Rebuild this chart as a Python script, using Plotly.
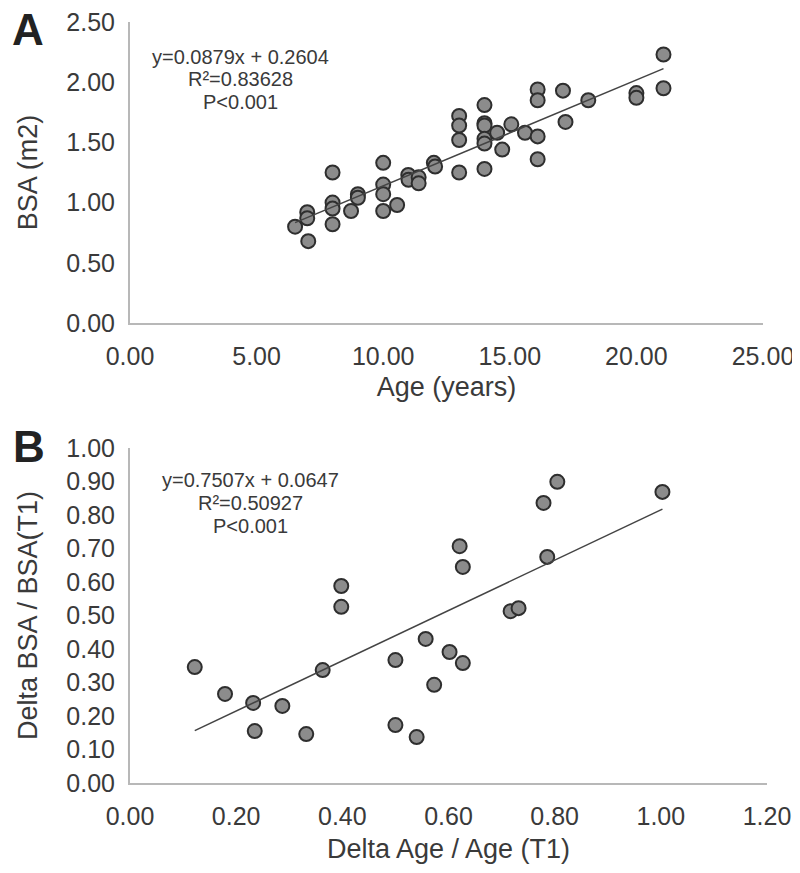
import plotly.graph_objects as go

# Panel A data: Age (years) vs BSA (m2)
age = [6.52, 7.0, 7.0, 7.04, 8.0, 8.0, 8.0, 8.0, 8.73, 9.0, 9.0,
       10.0, 10.0, 10.0, 10.0, 10.55, 10.99, 11.0, 11.4, 11.4, 12.0, 12.05,
       13.0, 13.0, 13.0, 13.0, 14.0, 14.0, 14.0, 14.0, 14.0, 14.0,
       14.5, 14.7, 15.06, 15.6, 16.1, 16.1, 16.1, 16.1, 17.1, 17.2,
       18.1, 20.0, 20.0, 21.07, 21.07]
bsa = [0.80, 0.92, 0.87, 0.68, 1.25, 1.00, 0.95, 0.82, 0.93, 1.07, 1.04,
       1.33, 1.15, 1.07, 0.93, 0.98, 1.23, 1.19, 1.21, 1.16, 1.33, 1.30,
       1.72, 1.64, 1.52, 1.25, 1.81, 1.66, 1.64, 1.53, 1.49, 1.28,
       1.58, 1.44, 1.65, 1.58, 1.94, 1.85, 1.55, 1.36, 1.93, 1.67,
       1.85, 1.91, 1.87, 2.23, 1.95]
slope_a, icpt_a = 0.0879, 0.2604

# Panel B data: Delta Age / Age (T1) vs Delta BSA / BSA(T1)
d_age = [0.122, 0.179, 0.232, 0.235, 0.287, 0.332, 0.363, 0.398, 0.398,
         0.50, 0.50, 0.54, 0.557, 0.573, 0.602, 0.621, 0.627, 0.627,
         0.717, 0.732, 0.779, 0.786, 0.805, 1.003]
d_bsa = [0.346, 0.266, 0.239, 0.155, 0.23, 0.146, 0.337, 0.588, 0.526,
         0.367, 0.173, 0.137, 0.43, 0.293, 0.391, 0.707, 0.645, 0.358,
         0.513, 0.522, 0.836, 0.675, 0.899, 0.869]
slope_b, icpt_b = 0.7507, 0.0647

xticks_a = [0, 5, 10, 15, 20, 25]
yticks_a = [0, 0.5, 1.0, 1.5, 2.0, 2.5]
xticks_b = [0, 0.2, 0.4, 0.6, 0.8, 1.0, 1.2]
yticks_b = [0, 0.1, 0.2, 0.3, 0.4, 0.5, 0.6, 0.7, 0.8, 0.9, 1.0]

# page body has an 8px margin, so the figure is offset by 8px
OFF = 8
W, H = 800 - OFF, 873 - OFF
FONT = "Liberation Sans, Arial, sans-serif"
TXT = "#3a3a3a"

def px(x):
    return (x - OFF) / W

def py(y):
    return 1 - (y - OFF) / H

marker = dict(size=14, color="#8c8c8c", line=dict(color="#2e2e2e", width=2))

fig = go.Figure()
fig.add_trace(go.Scatter(x=age, y=bsa, mode="markers", marker=marker,
                         xaxis="x", yaxis="y", showlegend=False))
xa_line = [min(age), max(age)]
fig.add_trace(go.Scatter(x=xa_line, y=[slope_a * v + icpt_a for v in xa_line],
                         mode="lines", line=dict(color="#444444", width=1.5),
                         xaxis="x", yaxis="y", showlegend=False))
fig.add_trace(go.Scatter(x=d_age, y=d_bsa, mode="markers", marker=marker,
                         xaxis="x2", yaxis="y2", showlegend=False))
xb_line = [min(d_age), max(d_age)]
fig.add_trace(go.Scatter(x=xb_line, y=[slope_b * v + icpt_b for v in xb_line],
                         mode="lines", line=dict(color="#444444", width=1.5),
                         xaxis="x2", yaxis="y2", showlegend=False))

tickfont = dict(family=FONT, size=25, color=TXT)
titlefont = dict(family=FONT, size=27, color=TXT)

def xax(vals, rng, dom, anchor, title, standoff):
    return dict(range=rng, domain=dom, anchor=anchor, tickvals=vals, automargin=False,
                ticktext=[f"{v:.2f}" for v in vals], showgrid=False, zeroline=False,
                showline=True, linecolor="#b8b8b8", linewidth=2,
                ticks="outside", ticklen=10, tickcolor="rgba(0,0,0,0)",
                ticklabeloverflow="allow",
                tickfont=tickfont, title=dict(text=title, font=titlefont, standoff=standoff))

def yax(vals, rng, dom, anchor, title):
    return dict(range=rng, domain=dom, anchor=anchor, tickvals=vals, automargin=False,
                ticktext=[f"{v:.2f}" for v in vals], showgrid=False, zeroline=False,
                showline=True, linecolor="#b8b8b8", linewidth=2,
                ticks="outside", ticklen=8, tickcolor="rgba(0,0,0,0)",
                ticklabeloverflow="allow",
                tickfont=tickfont, title=dict(text=title, font=titlefont, standoff=21))

fig.update_layout(
    width=W, height=H, margin=dict(l=0, r=0, t=0, b=0),
    plot_bgcolor="white", paper_bgcolor="white",
    xaxis=xax(xticks_a, [0, 25], [px(130), px(763)], "y", "Age (years)", 8),
    yaxis=yax(yticks_a, [0, 2.5], [py(323), py(22)], "x", "BSA (m2)"),
    xaxis2=xax(xticks_b, [0, 1.2], [px(130), px(767)], "y2", "Delta Age / Age (T1)", 10),
    yaxis2=yax(yticks_b, [0, 1.0], [py(783), py(448)], "x2", "Delta BSA / BSA(T1)"),
)

ann_font = dict(family=FONT, size=20, color=TXT)
annotations = [
    dict(text="<b>A</b>", x=px(28), y=py(29), font=dict(family=FONT, size=44, color="#222")),
    dict(text="<b>B</b>", x=px(29), y=py(446), font=dict(family=FONT, size=44, color="#222")),
    dict(text=f"y={slope_a}x + {icpt_a}", x=px(240), y=py(57), font=ann_font),
    dict(text="R²=0.83628", x=px(240), y=py(79), font=ann_font),
    dict(text="P<0.001", x=px(240), y=py(102), font=ann_font),
    dict(text=f"y={slope_b}x + {icpt_b}", x=px(250), y=py(480), font=ann_font),
    dict(text="R²=0.50927", x=px(250), y=py(503), font=ann_font),
    dict(text="P<0.001", x=px(250), y=py(526), font=ann_font),
]
for a in annotations:
    fig.add_annotation(xref="paper", yref="paper", showarrow=False,
                       xanchor="center", yanchor="middle", **a)

fig.write_html("out.html")
